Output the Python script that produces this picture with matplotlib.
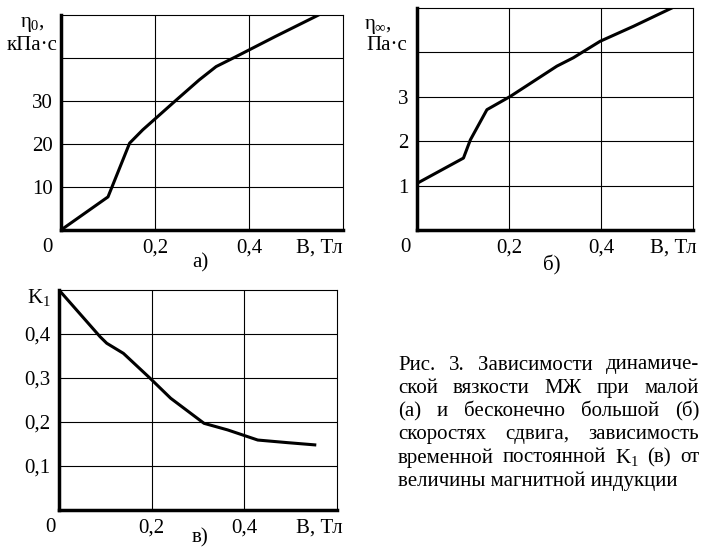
import matplotlib
matplotlib.use("Agg")
import matplotlib.pyplot as plt

plt.rcParams['font.family'] = ['Liberation Serif', 'DejaVu Serif']
plt.rcParams['mathtext.fontset'] = 'custom'
plt.rcParams['mathtext.rm'] = 'Liberation Serif'
plt.rcParams['mathtext.it'] = 'Liberation Serif'

# a) eta_0, kPa*s vs B, T
b_a = [0.0, 0.10, 0.146, 0.174, 0.245, 0.294, 0.33, 0.372, 0.456, 0.548]
eta0 = [0.0, 7.7, 20.2, 23.3, 30.2, 34.9, 38.0, 40.3, 45.0, 50.0]

# b) eta_inf, Pa*s vs B, T
b_b = [0.0, 0.101, 0.116, 0.152, 0.203, 0.304, 0.34, 0.398, 0.471, 0.554]
eta_inf = [1.05, 1.62, 2.03, 2.71, 3.01, 3.69, 3.88, 4.25, 4.59, 5.0]

# c) K1 vs B, T
b_c = [0.0, 0.0885, 0.103, 0.139, 0.197, 0.241, 0.313, 0.364, 0.429, 0.494, 0.552]
k1 = [0.5, 0.394, 0.379, 0.356, 0.299, 0.254, 0.197, 0.182, 0.159, 0.153, 0.148]

x_ticks = [0.2, 0.4]
x_labels = ['0,2', '0,4']

caption = ["Рис. 3. Зависимости динамиче-",
           "ской вязкости МЖ при малой",
           "(а) и бесконечно большой (б)",
           "скоростях сдвига, зависимость",
           "временной постоянной K$_1$ (в) от",
           "величины магнитной индукции"]

FS = 15
W, H = 703, 553
fig = plt.figure(figsize=(7.03, 5.53), dpi=100)


def px_axes(l, t, r, b):
    return fig.add_axes([l / W, 1 - b / H, (r - l) / W, (b - t) / H])


def style(ax, ymax, yticks, ylabels, zero_dx, unit_dx):
    ax.set_xlim(0, 0.6)
    ax.set_ylim(0, ymax)
    ax.set_xticks(x_ticks)
    ax.set_xticklabels([])
    ax.set_yticks(yticks)
    ax.set_yticklabels(ylabels)
    ax.tick_params(length=0, labelsize=FS, pad=6)
    ax.grid(True, color='black', lw=0.8)
    for s in ['top', 'right']:
        ax.spines[s].set_linewidth(0.8)
    for s in ['left', 'bottom']:
        ax.spines[s].set_linewidth(2.5)
    bb = ax.get_position()
    wpx, hpx = bb.width * W, bb.height * H
    yl = -18 / hpx
    for xv, lab in zip(x_ticks, x_labels):
        ax.text(xv / 0.6, yl, lab, transform=ax.transAxes, ha='center', va='center', fontsize=FS)
    ax.text(zero_dx / wpx, yl, '0', transform=ax.transAxes, ha='center', va='center', fontsize=FS)
    ax.text(1 + unit_dx / wpx, yl, 'В, Тл', transform=ax.transAxes, ha='right', va='center', fontsize=FS)


ax1 = px_axes(61, 15, 343, 230)
ax1.plot(b_a, eta0, color='black', lw=2.2, solid_joinstyle='round')
style(ax1, 50, [10, 20, 30, 40], ['10', '20', '30', ''], -14, 0)
fig.text(32 / W, 1 - 24 / H, r'$\eta_0$,', ha='center', va='center', fontsize=FS)
fig.text(32 / W, 1 - 45 / H, 'кПа·с', ha='center', va='center', fontsize=FS)
fig.text(200 / W, 1 - 263 / H, 'а)', ha='center', va='center', fontsize=FS)

ax2 = px_axes(417, 8, 693, 230)
ax2.plot(b_b, eta_inf, color='black', lw=2.2, solid_joinstyle='round')
style(ax2, 5, [1, 2, 3, 4], ['1', '2', '3', ''], -12, 4)
fig.text(378 / W, 1 - 26 / H, r'$\eta_\infty$,', ha='center', va='center', fontsize=FS)
fig.text(387 / W, 1 - 45 / H, 'Па·с', ha='center', va='center', fontsize=FS)
fig.text(552 / W, 1 - 265 / H, 'б)', ha='center', va='center', fontsize=FS)

ax3 = px_axes(59, 290, 337, 510)
ax3.plot(b_c, k1, color='black', lw=2.2, solid_joinstyle='round')
style(ax3, 0.5, [0.1, 0.2, 0.3, 0.4], ['0,1', '0,2', '0,3', '0,4'], -9, 6)
fig.text(39 / W, 1 - 297 / H, 'K$_1$', ha='center', va='center', fontsize=FS)
fig.text(200 / W, 1 - 538 / H, 'в)', ha='center', va='center', fontsize=FS)

# caption, justified except the last line
renderer = fig.canvas.get_renderer()
x_left, x_right = 398, 699
for i, line in enumerate(caption):
    y = 1 - (365 + i * 23.2) / H
    if i == len(caption) - 1:
        fig.text(x_left / W, y, line, ha='left', va='center', fontsize=FS)
        continue
    words = line.split(' ')
    objs = [fig.text(0, y, w, ha='left', va='center', fontsize=FS) for w in words]
    widths = [o.get_window_extent(renderer).width for o in objs]
    gap = (x_right - x_left - sum(widths)) / (len(words) - 1)
    x = x_left
    for o, w in zip(objs, widths):
        o.set_x(x / W)
        x += w + gap

fig.savefig('out.png', dpi=100)
